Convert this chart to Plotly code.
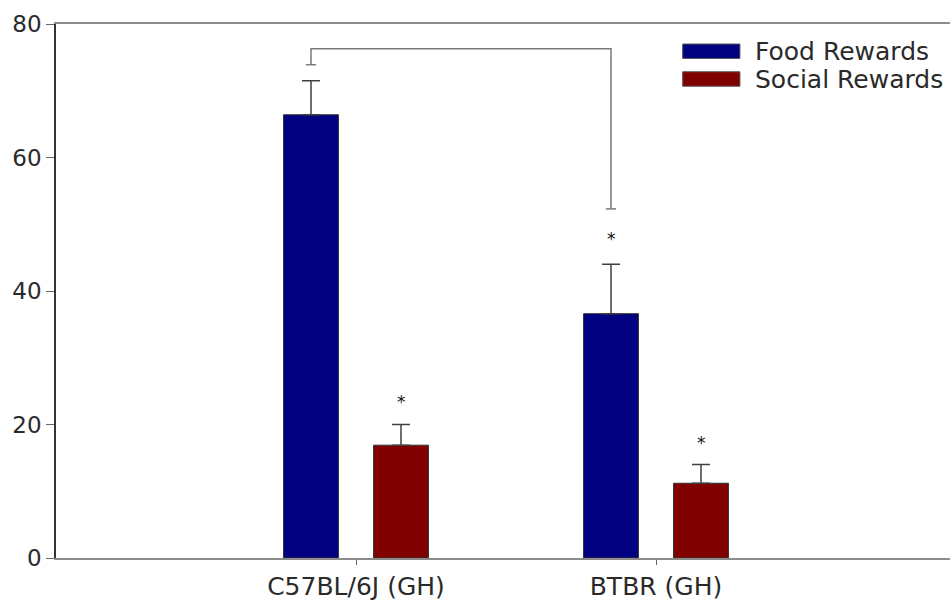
import plotly.graph_objects as go

categories = ["C57BL/6J (GH)", "BTBR (GH)"]
food_values = [66.4, 36.6]
food_errors = [5.1, 7.4]
social_values = [16.9, 11.2]
social_errors = [3.1, 2.8]
series_names = ["Food Rewards", "Social Rewards"]
series_colors = ["#000080", "#800000"]

# significance markers (value positions)
star_food = [None, 47.8]
star_social = [23.4, 17.3]
bracket_top = 76.3
bracket_left_end = 73.9
bracket_right_end = 52.3

FONT = "DejaVu Sans"

fig = go.Figure()
fig.add_trace(go.Bar(
    x=categories, y=food_values, name=series_names[0],
    marker=dict(color=series_colors[0], line=dict(color="#333333", width=1)),
    error_y=dict(type="data", symmetric=False, array=food_errors,
                 arrayminus=[0, 0], color="#404040", thickness=1.5, width=9),
    showlegend=False,
))
fig.add_trace(go.Bar(
    x=categories, y=social_values, name=series_names[1],
    marker=dict(color=series_colors[1], line=dict(color="#333333", width=1)),
    error_y=dict(type="data", symmetric=False, array=social_errors,
                 arrayminus=[0, 0], color="#404040", thickness=1.5, width=9),
    showlegend=False,
))

off = 0.15  # bar offset within a group (category units)
annotations = []
for i in range(len(categories)):
    if star_food[i] is not None:
        annotations.append(dict(x=i - off, y=star_food[i], xref="x", yref="y",
                                text="*", showarrow=False,
                                font=dict(family=FONT, size=17, color="#111")))
    if star_social[i] is not None:
        annotations.append(dict(x=i + off, y=star_social[i], xref="x", yref="y",
                                text="*", showarrow=False,
                                font=dict(family=FONT, size=17, color="#111")))

shapes = []
lx, rx = 0 - off, 1 - off
cap = 0.017
line_style = dict(color="#7a7a7a", width=1.5)
shapes.append(dict(type="path", xref="x", yref="y",
                   path=f"M {lx},{bracket_left_end} L {lx},{bracket_top} L {rx},{bracket_top} L {rx},{bracket_right_end}",
                   line=line_style))
shapes.append(dict(type="line", xref="x", yref="y", x0=lx - cap, x1=lx + cap,
                   y0=bracket_left_end, y1=bracket_left_end, line=line_style))
shapes.append(dict(type="line", xref="x", yref="y", x0=rx - cap, x1=rx + cap,
                   y0=bracket_right_end, y1=bracket_right_end, line=line_style))

# manual legend (wide swatches)
leg_y = [0.949, 0.897]
for name, color, yc in zip(series_names, series_colors, leg_y):
    shapes.append(dict(type="rect", xref="paper", yref="paper",
                       x0=0.701, x1=0.765, y0=yc - 0.0135, y1=yc + 0.0135,
                       fillcolor=color, line=dict(color="#555555", width=1)))
    annotations.append(dict(x=0.78, y=yc, xref="paper", yref="paper",
                            text=name, showarrow=False, xanchor="left",
                            yanchor="middle",
                            font=dict(family=FONT, size=25, color="#2a2a2a")))

fig.update_layout(
    width=950, height=602,
    margin=dict(l=56, r=0, t=24, b=44),
    paper_bgcolor="white", plot_bgcolor="white",
    barmode="group", bargap=0.4, bargroupgap=0.39,
    font=dict(family=FONT, color="#2a2a2a"),
    shapes=shapes, annotations=annotations,
    xaxis=dict(range=[-1, 1.98], showline=True, linecolor="#8c8c8c", linewidth=2,
               mirror=True, ticks="outside", ticklen=5, tickcolor="#666666",
               tickfont=dict(family=FONT, size=25, color="#2a2a2a"),
               showgrid=False, zeroline=False),
    yaxis=dict(range=[0, 80], dtick=20, showline=True, linecolor="#333333",
               linewidth=1.5, ticks="outside", ticklen=8, tickcolor="#666666",
               tickfont=dict(family=FONT, size=23, color="#2a2a2a"),
               showgrid=False, zeroline=False),
)

fig.write_html("out.html",
               config={"displayModeBar": False},
               post_script="document.body.style.margin='0';document.body.style.overflow='hidden';")
